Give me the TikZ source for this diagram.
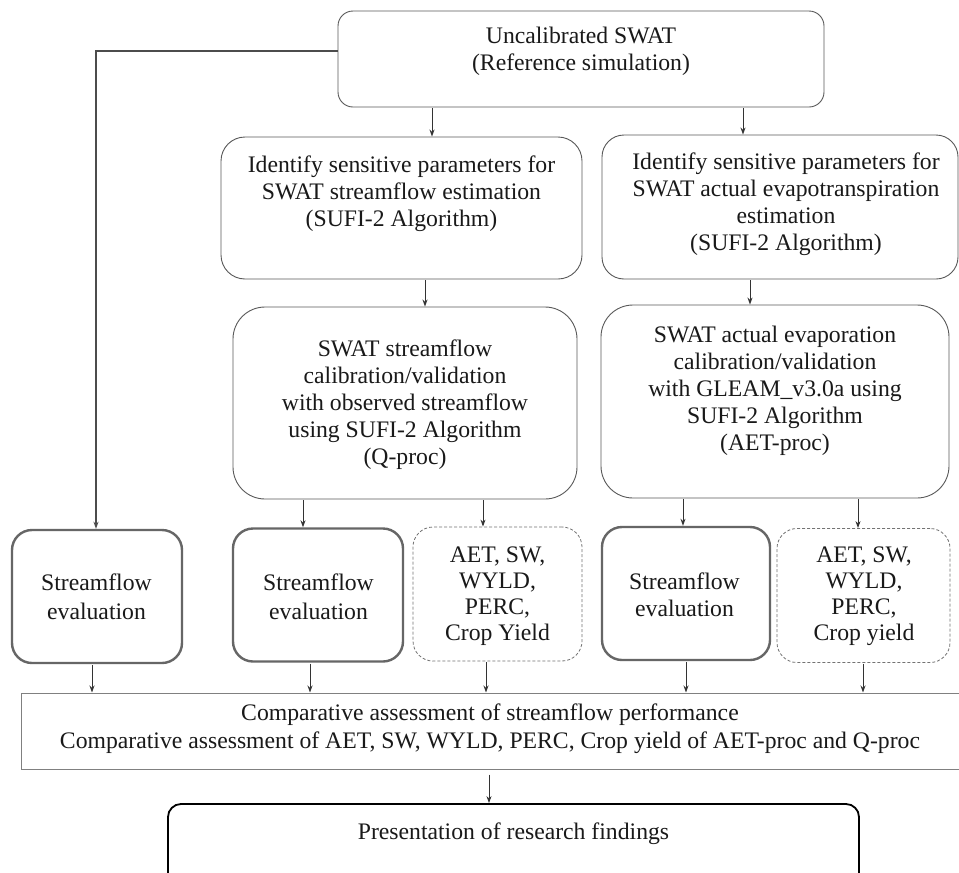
\documentclass[tikz,border=0pt]{standalone}
\usepackage{fontspec}
\setmainfont{Liberation Serif}
\usetikzlibrary{arrows.meta}
\begin{document}
\begin{tikzpicture}[x=1pt,y=-1pt,
  box/.style={draw=black!65, line width=0.9pt, rounded corners=#1, inner sep=0pt, fill=white},
  box/.default=18pt,
  sfbox/.style={draw=black!60, line width=2.4pt, rounded corners=20pt, inner sep=0pt, minimum height=133pt},
  dbox/.style={draw=black!55, line width=0.8pt, dash pattern=on 3pt off 2pt, rounded corners=20pt, inner sep=0pt, minimum height=134pt},
  txt/.style={align=center, font=\fontsize{23.7}{27}\selectfont, text=black!90, inner sep=0pt},
  arr/.style={draw=black!80, line width=1pt, -{Stealth[length=7pt,width=5pt]}, shorten <=1pt}
]
\clip (0,0) rectangle (959,873);
\fill[white] (0,0) rectangle (959,873);

% boxes
\node[box=15pt, minimum width=486pt, minimum height=96pt] (top) at (581,59) {};
\node[txt] (topt) at (581,51) {Uncalibrated SWAT\\(Reference simulation)};

\node[box=24pt, minimum width=361pt, minimum height=142pt] (id1) at (401.5,208) {};
\node[txt] (id1t) at (401.5,194) {Identify sensitive parameters for\\SWAT streamflow estimation\\(SUFI-2 Algorithm)};

\node[box=22pt, minimum width=356pt, minimum height=144pt] (id2) at (780,207) {};
\node[txt] (id2t) at (786,204) {Identify sensitive parameters for\\SWAT actual evapotranspiration\\estimation\\(SUFI-2 Algorithm)};

\node[box=32pt, minimum width=344pt, minimum height=192pt] (q) at (405,403) {};
\node[txt] (qt) at (405,405) {SWAT streamflow\\calibration/validation\\with observed streamflow\\using SUFI-2 Algorithm\\(Q-proc)};

\node[box=32pt, minimum width=348pt, minimum height=193pt] (aet) at (775,401.5) {};
\node[txt] (aett) at (775,391) {SWAT actual evaporation\\calibration/validation\\with GLEAM\_v3.0a using\\SUFI-2 Algorithm\\(AET-proc)};

\node[sfbox, minimum width=170pt] (sf1) at (97,596.5) {};
\node[txt, font=\fontsize{23.7}{29}\selectfont] (sf1t) at (96.5,597) {Streamflow\\evaluation};

\node[sfbox, minimum width=170pt] (sf2) at (318,595) {};
\node[txt, font=\fontsize{23.7}{29}\selectfont] (sf2t) at (318.5,597) {Streamflow\\evaluation};

\node[dbox, minimum width=169pt] (d1) at (497.5,594) {};
\node[txt, font=\fontsize{23.7}{26}\selectfont] (d1t) at (497.5,596) {AET, SW,\\WYLD,\\PERC,\\Crop Yield};

\node[sfbox, minimum width=168pt] (sf3) at (686,593.5) {};
\node[txt, font=\fontsize{23.7}{27}\selectfont] (sf3t) at (684.5,595) {Streamflow\\evaluation};

\node[dbox, minimum width=173pt] (d2) at (863.5,595.5) {};
\node[txt, font=\fontsize{23.7}{26}\selectfont] (d2t) at (864,596) {AET, SW,\\WYLD,\\PERC,\\Crop yield};

\node[draw=black!50, line width=1pt, inner sep=0pt, minimum width=944pt, minimum height=76pt] (cmp) at (493,731) {};
\node[txt, font=\fontsize{23.7}{28}\selectfont] (cmpt) at (490,729) {Comparative assessment of streamflow performance\\Comparative assessment of AET, SW, WYLD, PERC, Crop yield of AET-proc and Q-proc};

\node[draw=black, line width=1.8pt, rounded corners=13pt, inner sep=0pt, minimum width=691pt, minimum height=120pt] (bot) at (513.5,864) {};
\node[txt] (bott) at (513.5,834) {Presentation of research findings};

% connectors
\draw[draw=black!70, line width=1.3pt, -{Stealth[length=7pt,width=5pt]}] ([yshift=8pt]top.west) -| ([xshift=-1pt]sf1.north);
\draw[arr] ([xshift=-149pt]top.south) -- ([xshift=30.5pt]id1.north);
\draw[arr] ([xshift=162pt]top.south) -- ([xshift=-37pt]id2.north);
\draw[arr] ([xshift=23.5pt]id1.south) -- ([xshift=20pt]q.north);
\draw[arr] ([xshift=-30pt]id2.south) -- ([xshift=-25pt]aet.north);
\draw[arr] ([xshift=-102pt]q.south) -- ([xshift=-15pt]sf2.north);
\draw[arr] ([xshift=78pt]q.south) -- ([xshift=-14.5pt]d1.north);
\draw[arr] ([xshift=-92pt]aet.south) -- ([xshift=-3pt]sf3.north);
\draw[arr] ([xshift=83pt]aet.south) -- ([xshift=-5.5pt]d2.north);
\draw[arr] ([xshift=-5pt]sf1.south) -- ([xshift=-401pt]cmp.north);
\draw[arr] ([xshift=-8pt]sf2.south) -- ([xshift=-183pt]cmp.north);
\draw[arr] ([xshift=-11.5pt]d1.south) -- ([xshift=-7pt]cmp.north);
\draw[arr] (sf3.south) -- ([xshift=193pt]cmp.north);
\draw[arr] ([xshift=-0.5pt]d2.south) -- ([xshift=370pt]cmp.north);
\draw[arr, shorten <=5pt] ([xshift=-4pt]cmp.south) -- ([xshift=-24.5pt]bot.north);
\end{tikzpicture}
\end{document}
